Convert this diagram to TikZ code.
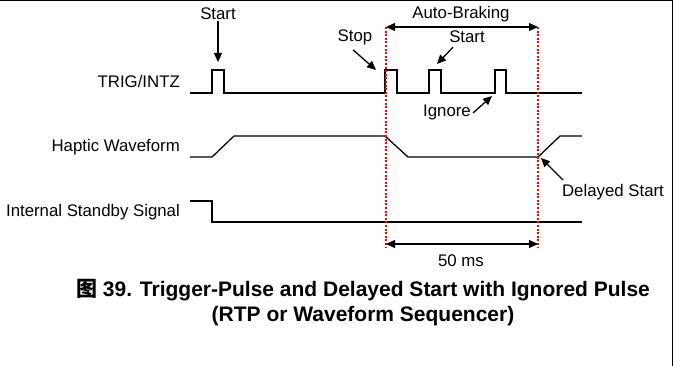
\documentclass[tikz,border=0pt]{standalone}
\usepackage{fontspec}
\setmainfont{Liberation Sans}
\newfontfamily\cjkfont{Noto Sans CJK SC}
\usetikzlibrary{arrows.meta}
\begin{document}
\begin{tikzpicture}[x=1pt,y=-1pt,
  sig/.style={line width=1.3pt, line join=miter},
  marker/.style={red, line width=1.3pt, dash pattern=on 2pt off 1.6pt},
  arr/.style={line width=1.3pt, -{Triangle[length=9pt,width=8pt]}},
  darr/.style={line width=1.3pt, {Triangle[length=9pt,width=8pt]}-{Triangle[length=9pt,width=8pt]}},
  lbl/.style={font=\fontsize{16.8}{18}\selectfont, inner sep=1pt},
  captext/.style={font=\fontsize{21}{23}\selectfont\bfseries, inner sep=0pt}]
\useasboundingbox (0,0) rectangle (674,366);
% frame
\draw[line width=1.5pt] (0,0.75) -- (672.25,0.75) -- (672.25,366);
% signal names
\node[lbl, anchor=east] (trig) at (181,81) {TRIG/INTZ};
\node[lbl, anchor=east] (hap) at (181,147) {Haptic Waveform};
\node[lbl, anchor=east] (stby) at (181,212) {Internal Standby Signal};
% signals
\draw[sig] (190,93) -- (212,93) -- (212,70) -- (224,70) -- (224,93) -- (385,93)
  -- (385,70) -- (397,70) -- (397,93) -- (429,93) -- (429,70) -- (441,70) -- (441,93)
  -- (495,93) -- (495,70) -- (506,70) -- (506,93) -- (582,93);
\draw[sig] (190,157) -- (212,157) -- (234,136) -- (385,136) -- (408,157) -- (538,157)
  -- (560,136) -- (582,136);
\draw[sig] (190,201) -- (212,201) -- (212,222) -- (582,222);
% red markers
\coordinate (m1t) at (386,27);
\coordinate (m2t) at (538,27);
\coordinate (m1b) at (386,247);
\coordinate (m2b) at (538,247);
\draw[marker] (m1t) -- (m1b);
\draw[marker] (m2t) -- (m2b);
% Auto-Braking
\node[lbl] (ab) at (461,14) {Auto-Braking};
\draw[darr] (m1t) -- (m2t);
% 50 ms
\coordinate (d1) at (386,244);
\coordinate (d2) at (538,244);
\draw[darr] (d1) -- (d2);
\node[lbl] (ms) at (461,261) {50 ms};
% annotations
\node[lbl] (start1) at (218,14) {Start};
\coordinate (start1h) at (218,62);
\draw[arr] (start1.south) -- (start1h);
\node[lbl] (stop) at (355,37) {Stop};
\coordinate (stoph) at (376,70);
\draw[arr] ([shift={(-2,4)}]stop.south) -- (stoph);
\node[lbl] (start2) at (467,37) {Start};
\coordinate (start2h) at (437,64);
\draw[arr] ([shift={(-14,3)}]start2.south) -- (start2h);
\node[lbl] (ign) at (447,112) {Ignore};
\coordinate (ignh) at (492,96);
\draw[arr] ([shift={(1,1)}]ign.east) -- (ignh);
\node[lbl] (dly) at (613,192) {Delayed Start};
\coordinate (dlyh) at (541,158);
\draw[arr] ([shift={(-50,-12)}]dly.center) -- (dlyh);
% caption
\node[captext] (cap1) at (363,290) {{\cjkfont 图} 39. Trigger-Pulse and Delayed Start with Ignored Pulse};
\node[captext] (cap2) at (363,316) {(RTP or Waveform Sequencer)};
\end{tikzpicture}
\end{document}
